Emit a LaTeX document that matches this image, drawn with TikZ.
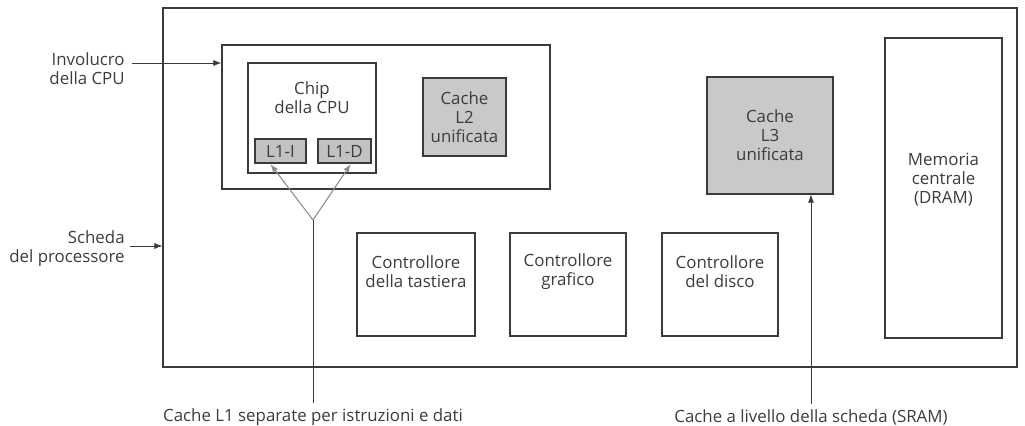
\documentclass[tikz,border=0pt]{standalone}
\usepackage{fontspec}
\setmainfont{Open Sans}
\usepackage{tikz}
\usetikzlibrary{arrows.meta,positioning,calc}
\definecolor{ink}{HTML}{3A3A3A}
\definecolor{cachegrey}{HTML}{C9C9C9}
\definecolor{lonegrey}{HTML}{C2C2C2}
\definecolor{wire}{HTML}{8C8C8C}
\definecolor{textgrey}{HTML}{3C3C3C}
\newcommand{\diagfont}{\fontsize{9.6}{10.8}\selectfont}
\tikzset{
  unitbox/.style={draw=ink, line width=0.8pt, fill=white, align=center,
    inner sep=0pt, font=\diagfont, text=textgrey},
  cachebox/.style={unitbox, fill=cachegrey},
  lonebox/.style={unitbox, fill=lonegrey, line width=1.4pt, minimum height=0.48cm},
  boxtext/.style={font=\diagfont, text=textgrey, align=center, inner sep=0pt},
  sidelabel/.style={font=\diagfont, text=textgrey, align=right, anchor=east, inner sep=0pt},
  notelabel/.style={font=\diagfont, text=textgrey, inner sep=3pt},
  pointer/.style={-{Latex[length=1.6mm,width=1.2mm]}, draw=ink, line width=0.4pt},
  feedline/.style={draw=wire, line width=0.6pt},
}
\begin{document}
\begin{tikzpicture}[x=0.02cm, y=-0.02cm]
  \useasboundingbox (0,0) rectangle (1025,426);

  % scheda e involucro
  \node[unitbox, minimum width=17.08cm, minimum height=7.18cm] (board) at (590,187.5) {};
  \node[unitbox, minimum width=6.56cm, minimum height=2.88cm] (pkg) at (386,117) {};
  \node[unitbox, minimum width=2.56cm, minimum height=2.20cm,
    label={[boxtext, yshift=0.40cm]center:Chip\\della CPU}] (chip) at (312,118) {};
  \node[lonebox, minimum width=1.02cm] (l1i) at (280.5,151) {L1-I};
  \node[lonebox, minimum width=1.06cm] (l1d) at (344.5,151) {L1-D};
  \node[cachebox, minimum width=1.66cm, minimum height=1.56cm] (l2) at (464.5,117) {Cache\\L2\\unificata};
  \node[cachebox, minimum width=2.52cm, minimum height=2.34cm] (l3) at (770,135.5) {Cache\\L3\\unificata};
  \node[unitbox, minimum width=2.34cm, minimum height=6.00cm,
    label={[boxtext, yshift=0.16cm]center:Memoria\\centrale\\(DRAM)}] (mem) at (943.5,188) {};

  % controllori
  \node[unitbox, minimum width=2.36cm, minimum height=2.06cm,
    label={[boxtext, yshift=0.26cm]center:Controllore\\della tastiera}] (kbd) at (416,284.5) {};
  \node[unitbox, minimum width=2.32cm, minimum height=2.06cm,
    label={[boxtext, yshift=0.26cm]center:Controllore\\grafico}] (gfx) at (568,284.5) {};
  \node[unitbox, minimum width=2.32cm, minimum height=2.06cm,
    label={[boxtext, yshift=0.26cm]center:Controllore\\del disco}] (dsk) at (720,284.5) {};

  % etichette laterali
  \node[sidelabel] (invl) at (125,69) {Involucro\\della CPU};
  \node[sidelabel] (schl) at (125,249) {Scheda\\del processore};
  \draw[pointer] ($(invl.east)+(7,-6)$) coordinate (invfrom) -- (invfrom -| pkg.west);
  \draw[pointer] ($(schl.east)+(5,-3)$) coordinate (schfrom) -- (schfrom -| board.west);

  % note in basso
  \node[notelabel] (l1note) at (313,417) {Cache L1 separate per istruzioni e dati};
  \node[notelabel] (l3note) at (811,417) {Cache a livello della scheda (SRAM)};
  \coordinate (l1split) at (313,220);
  \draw[ink, line width=0.4pt] (l1note.north) -- (l1split);
  \draw[feedline, -{Latex[length=1.6mm,width=1.2mm]}] (l1split) -- (l1i.233);
  \draw[feedline, -{Latex[length=1.6mm,width=1.2mm]}] (l1split) -- (l1d.295);
  \draw[pointer] (l3note.north) -- (l3note.north |- l3.south);
\end{tikzpicture}
\end{document}
